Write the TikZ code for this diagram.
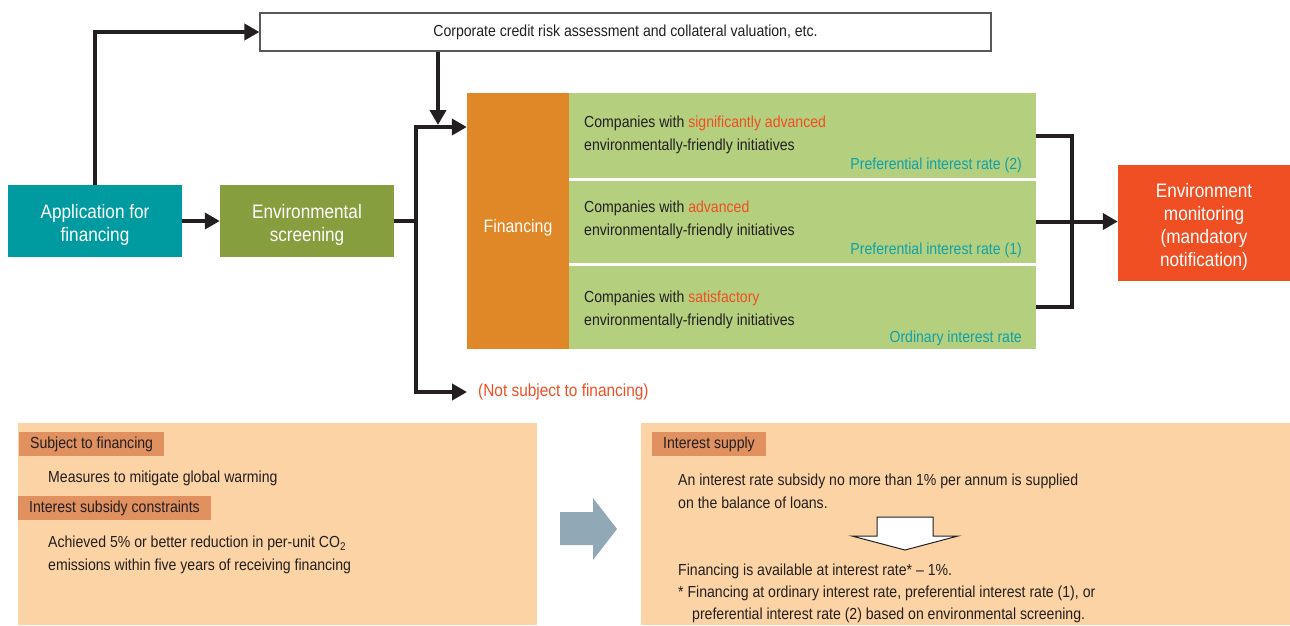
\documentclass[tikz,border=0pt]{standalone}
\usepackage{fontspec}
\setmainfont{Liberation Sans}[FakeStretch=0.88]
\usepackage{tikz}
\usetikzlibrary{positioning,arrows.meta,calc}
\definecolor{appteal}{HTML}{009BA1}
\definecolor{scrgreen}{HTML}{869E3E}
\definecolor{finorange}{HTML}{E08827}
\definecolor{rowgreen}{HTML}{B4D07F}
\definecolor{alertred}{HTML}{F04E23}
\definecolor{ratecyan}{HTML}{10A0A8}
\definecolor{monred}{HTML}{F04E23}
\definecolor{panelbg}{HTML}{FCD3A4}
\definecolor{tagbg}{HTML}{E0915F}
\definecolor{arrowgrey}{HTML}{91A9B6}
\definecolor{inkdark}{HTML}{231F20}
\definecolor{boxgrey}{HTML}{58595B}

\begin{document}
\begin{tikzpicture}[x=1pt, y=-1pt, font=\fontsize{16}{23}\selectfont,
      block/.style={rectangle, inner sep=0pt},
      blocktxt/.style={align=center, text=white, inner sep=0pt, font=\fontsize{19.5}{23}\selectfont},
      row/.style={rectangle, fill=rowgreen, minimum width=467pt, inner sep=0pt},
      rowtxt/.style={anchor=west, align=left, text=inkdark, inner sep=0pt},
      rate/.style={anchor=east, text=ratecyan, inner sep=0pt},
      tag/.style={anchor=west, fill=tagbg, text=inkdark, inner xsep=11pt, inner ysep=0pt, minimum height=24pt},
      note/.style={anchor=west, align=left, text=inkdark, inner sep=0pt},
      link/.style={draw=inkdark, line width=4pt},
      >={Triangle[length=15pt, width=16pt]}
      ]
      \useasboundingbox (0,0) rectangle (1290,625);

      % upper flow
      \node[block, fill=appteal, minimum width=174pt, minimum height=72pt,
            label={[blocktxt, yshift=-4pt]center:Application for\\financing}] (APP) at (95,221) {};
      \node[block, fill=scrgreen, minimum width=174pt, minimum height=72pt,
            label={[blocktxt, yshift=-4pt]center:Environmental\\screening}] (SCR) at (307,221) {};
      \node[rectangle, draw=boxgrey, line width=1.2pt, minimum width=731pt, minimum height=38pt, text=inkdark] (RISK) at (625.5,32) {Corporate credit risk assessment and collateral valuation, etc.};
      \node[block, fill=finorange, minimum width=102pt, minimum height=256pt,
            label={[blocktxt, yshift=-7pt, font=\fontsize{18}{22}\selectfont]center:Financing}] (FIN) at (518,221) {};

      % the three rate classes
      \node[row, minimum height=86pt] (ROW1) at (802.5,136) {};
      \node[row, minimum height=85pt] (ROW2) at (802.5,221.5) {};
      \node[row, minimum height=85pt] (ROW3) at (802.5,306.5) {};
      \draw[white, line width=3pt] (ROW1.south west) -- (ROW1.south east);
      \draw[white, line width=3pt] (ROW2.south west) -- (ROW2.south east);
      \node[rowtxt] (TXT1) at (584,135) {Companies with \textcolor{alertred}{significantly advanced}\\environmentally-friendly initiatives};
      \node[rowtxt] (TXT2) at (584,220) {Companies with \textcolor{alertred}{advanced}\\environmentally-friendly initiatives};
      \node[rowtxt] (TXT3) at (584,310) {Companies with \textcolor{alertred}{satisfactory}\\environmentally-friendly initiatives};
      \node[rate] (RATE2) at (1022,165) {Preferential interest rate (2)};
      \node[rate] (RATE1) at (1022,250) {Preferential interest rate (1)};
      \node[rate] (RATE0) at (1022,338) {Ordinary interest rate};

      \node[block, fill=monred, minimum width=172pt, minimum height=116pt,
            label={[blocktxt, yshift=-4pt]center:Environment\\monitoring\\(mandatory\\notification)}] (MON) at (1204,223) {};
      \node[anchor=west, text=alertred, inner sep=0pt, font=\fontsize{17.5}{20}\selectfont] (NOFIN) at (478,392) {(Not subject to financing)};

      % connectors
      \coordinate (MERGE) at (438,127);
      \coordinate (FORK) at (416,221);
      \coordinate (BUS) at (1072,221);
      \draw[link,->] (APP) -- (SCR);
      \draw[link,->] (APP.north) |- (RISK.west);
      \draw[link,->,shorten >=2pt] (MERGE |- RISK.south) -- (MERGE);
      \draw[link,->] (SCR.east) -- (FORK) |- (FIN.west |- MERGE);
      \draw[link,->] (FORK) |- ([xshift=-11pt]NOFIN.west);
      \draw[link] (ROW1.east) -| (BUS) |- (ROW3.east);
      \draw[link,->] (ROW2.east) -- (ROW2.east -| MON.west);

      % lower panels
      \fill[panelbg] (18,423) rectangle (537,625);
      \fill[panelbg] (641,423) rectangle (1290,625);
      \node[tag] (SUBJ) at (19,444) {Subject to financing};
      \node[note] (MEAS) at (48,478) {Measures to mitigate global warming};
      \node[tag] (CONS) at (18,508) {Interest subsidy constraints};
      \node[note] (ACHV) at (48,555) {Achieved 5\% or better reduction in per-unit CO\textsubscript{2}\\emissions within five years of receiving financing};

      \fill[arrowgrey] (560,512) -- (593,512) -- (593,498) -- (617,529) -- (593,560) -- (593,545) -- (560,545) -- cycle;

      \node[tag] (SUPP) at (652,444) {Interest supply};
      \node[note] (SUBS) at (678,491) {An interest rate subsidy no more than 1\% per annum is supplied\\on the balance of loans.};
      \draw[inkdark, line width=1pt, fill=white] (877,517) -- (933,517) -- (933,536) -- (958,536) -- (905,550) -- (852,536) -- (877,536) -- cycle;
      \node[note] (AVAIL) at (678,571) {Financing is available at interest rate* -- 1\%.};
      \node[note, font=\fontsize{16}{22}\selectfont] (FOOT) at (678,604) {* Financing at ordinary interest rate, preferential interest rate (1), or\\\hspace*{14pt}preferential interest rate (2) based on environmental screening.};
    \end{tikzpicture}
\end{document}
